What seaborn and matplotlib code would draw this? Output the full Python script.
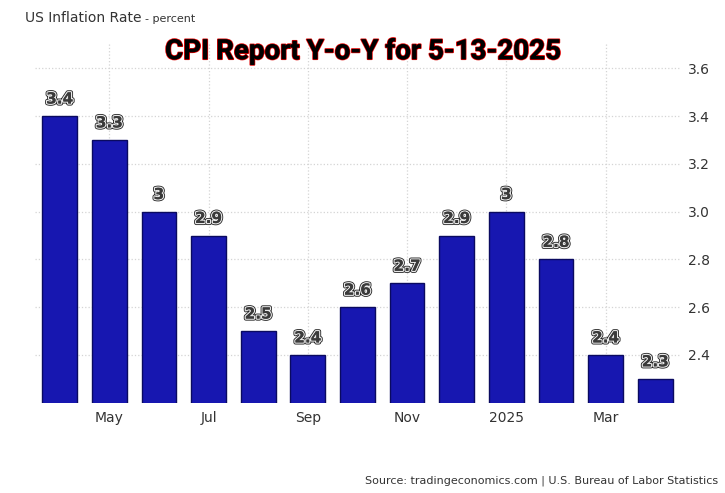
import matplotlib
matplotlib.use("Agg")
import matplotlib.pyplot as plt
import matplotlib.patheffects as pe
import seaborn as sns
import pandas as pd

months = ["Apr", "May", "Jun", "Jul", "Aug", "Sep", "Oct", "Nov", "Dec", "2025", "Feb", "Mar", "Apr25"]
values = [3.4, 3.3, 3.0, 2.9, 2.5, 2.4, 2.6, 2.7, 2.9, 3.0, 2.8, 2.4, 2.3]
labels = ["3.4", "3.3", "3", "2.9", "2.5", "2.4", "2.6", "2.7", "2.9", "3", "2.8", "2.4", "2.3"]
tick_idx = [1, 3, 5, 7, 9, 11]
tick_labels = ["May", "Jul", "Sep", "Nov", "2025", "Mar"]
yticks = [2.4, 2.6, 2.8, 3.0, 3.2, 3.4, 3.6]

df = pd.DataFrame({"m": months, "v": values})
fig = plt.figure(figsize=(7.25, 4.93), dpi=100)
ax = fig.add_axes([0.048, 0.183, 0.89, 0.727])
sns.barplot(data=df, x="m", y="v", color="#1717b0", saturation=1, width=0.7,
            edgecolor="#0a0a60", linewidth=1, ax=ax)
ax.set_ylim(2.2, 3.7)
ax.set_xlim(-0.5, 12.5)
ax.yaxis.tick_right()
ax.set_yticks(yticks)
ax.set_yticklabels([f"{t:.1f}" for t in yticks])
ax.set_xticks(tick_idx)
ax.set_xticklabels(tick_labels)
ax.tick_params(length=0, labelsize=10, colors="#333333", pad=6)
ax.set_xlabel(""); ax.set_ylabel("")
for s in ax.spines.values():
    s.set_visible(False)
ax.grid(True, linestyle=":", color="#d4d4d4", linewidth=0.9)
ax.set_axisbelow(True)
for i, (v, l) in enumerate(zip(values, labels)):
    ax.text(i, v + 0.04, l, ha="center", va="bottom", fontsize=11, fontweight="bold",
            color="#3a3a3a",
            path_effects=[pe.withStroke(linewidth=3, foreground="#222222"),
                          pe.withStroke(linewidth=1.8, foreground="#e8e8e8"), pe.Normal()])
fig.text(0.5, 0.88, "CPI Report Y-o-Y for 5-13-2025", ha="center", fontsize=20,
         fontweight="bold", family="Roboto", color="black",
         path_effects=[pe.withStroke(linewidth=1.3, foreground="#dd0000"), pe.Normal()])
fig.text(0.035, 0.955, "US Inflation Rate", fontsize=10, color="#333333")
fig.text(0.2, 0.955, "- percent", fontsize=8, color="#333333")
fig.text(0.99, 0.02, "Source: tradingeconomics.com | U.S. Bureau of Labor Statistics",
         ha="right", fontsize=8, color="#333333")
fig.savefig("out.png", dpi=100)
